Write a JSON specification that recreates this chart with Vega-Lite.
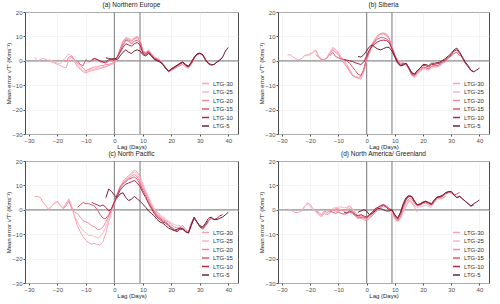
{
"$schema": "https://vega.github.io/schema/vega-lite/v6.json",
"padding": {"left": 5, "top": 1, "right": 4, "bottom": 0},
"datasets": {
"refs": [{"lag": 0}, {"lag": 9}],
"zero": [{"err": 0}],
"a": [
{"g":"LTG-30","lag":-28,"err":1.5},{"g":"LTG-30","lag":-27,"err":-0.2},{"g":"LTG-30","lag":-26,"err":0.5},{"g":"LTG-30","lag":-25,"err":1.0},{"g":"LTG-30","lag":-24,"err":0.5},{"g":"LTG-30","lag":-23,"err":0},{"g":"LTG-30","lag":-22,"err":-0.5},{"g":"LTG-30","lag":-21,"err":-1},{"g":"LTG-30","lag":-20,"err":-1.5},{"g":"LTG-30","lag":-19,"err":-2},{"g":"LTG-30","lag":-18,"err":-2.5},{"g":"LTG-30","lag":-17,"err":-3},{"g":"LTG-30","lag":-16,"err":0.5},{"g":"LTG-30","lag":-15,"err":1.5},{"g":"LTG-30","lag":-14,"err":-0.5},{"g":"LTG-30","lag":-13,"err":-2.5},{"g":"LTG-30","lag":-12,"err":-3.5},{"g":"LTG-30","lag":-11,"err":-4.5},{"g":"LTG-30","lag":-10,"err":-5},{"g":"LTG-30","lag":-9,"err":-4.5},{"g":"LTG-30","lag":-8,"err":-4},{"g":"LTG-30","lag":-7,"err":-3.8},{"g":"LTG-30","lag":-6,"err":-3.5},{"g":"LTG-30","lag":-5,"err":-3.2},{"g":"LTG-30","lag":-4,"err":-2.8},{"g":"LTG-30","lag":-3,"err":-2.5},{"g":"LTG-30","lag":-2,"err":-2},{"g":"LTG-30","lag":-1,"err":-1.5},{"g":"LTG-30","lag":0,"err":-1},{"g":"LTG-30","lag":1,"err":1},{"g":"LTG-30","lag":2,"err":4},{"g":"LTG-30","lag":3,"err":7.5},{"g":"LTG-30","lag":4,"err":9.5},{"g":"LTG-30","lag":5,"err":9.3},{"g":"LTG-30","lag":6,"err":8.5},{"g":"LTG-30","lag":7,"err":9.5},{"g":"LTG-30","lag":8,"err":10},{"g":"LTG-30","lag":9,"err":9},{"g":"LTG-30","lag":10,"err":4},{"g":"LTG-30","lag":11,"err":3.5},{"g":"LTG-30","lag":12,"err":4.5},{"g":"LTG-30","lag":13,"err":3},{"g":"LTG-30","lag":14,"err":1.5},{"g":"LTG-30","lag":15,"err":1},{"g":"LTG-30","lag":16,"err":0.5},{"g":"LTG-30","lag":17,"err":-1},{"g":"LTG-30","lag":18,"err":-2.5},
{"g":"LTG-25","lag":-23,"err":0.5},{"g":"LTG-25","lag":-22,"err":0},{"g":"LTG-25","lag":-21,"err":-0.5},{"g":"LTG-25","lag":-20,"err":-1},{"g":"LTG-25","lag":-19,"err":-1.2},{"g":"LTG-25","lag":-18,"err":0},{"g":"LTG-25","lag":-17,"err":1.5},{"g":"LTG-25","lag":-16,"err":2.8},{"g":"LTG-25","lag":-15,"err":2},{"g":"LTG-25","lag":-14,"err":0},{"g":"LTG-25","lag":-13,"err":-2},{"g":"LTG-25","lag":-12,"err":-3},{"g":"LTG-25","lag":-11,"err":-4},{"g":"LTG-25","lag":-10,"err":-4.5},{"g":"LTG-25","lag":-9,"err":-4},{"g":"LTG-25","lag":-8,"err":-3.5},{"g":"LTG-25","lag":-7,"err":-3.3},{"g":"LTG-25","lag":-6,"err":-3},{"g":"LTG-25","lag":-5,"err":-2.8},{"g":"LTG-25","lag":-4,"err":-2.5},{"g":"LTG-25","lag":-3,"err":-2.2},{"g":"LTG-25","lag":-2,"err":-1.8},{"g":"LTG-25","lag":-1,"err":-1.2},{"g":"LTG-25","lag":0,"err":-0.5},{"g":"LTG-25","lag":1,"err":1.5},{"g":"LTG-25","lag":2,"err":4.5},{"g":"LTG-25","lag":3,"err":8},{"g":"LTG-25","lag":4,"err":9.5},{"g":"LTG-25","lag":5,"err":9},{"g":"LTG-25","lag":6,"err":8},{"g":"LTG-25","lag":7,"err":9},{"g":"LTG-25","lag":8,"err":9.8},{"g":"LTG-25","lag":9,"err":8.5},{"g":"LTG-25","lag":10,"err":4},{"g":"LTG-25","lag":11,"err":3.5},{"g":"LTG-25","lag":12,"err":4},{"g":"LTG-25","lag":13,"err":3},{"g":"LTG-25","lag":14,"err":1.5},{"g":"LTG-25","lag":15,"err":1},{"g":"LTG-25","lag":16,"err":0.3},{"g":"LTG-25","lag":17,"err":-1.5},{"g":"LTG-25","lag":18,"err":-3},{"g":"LTG-25","lag":19,"err":-4.5},{"g":"LTG-25","lag":20,"err":-4},{"g":"LTG-25","lag":21,"err":-3.5},{"g":"LTG-25","lag":22,"err":-2.5},{"g":"LTG-25","lag":23,"err":-2},
{"g":"LTG-20","lag":-18,"err":0.5},{"g":"LTG-20","lag":-17,"err":-0.5},{"g":"LTG-20","lag":-16,"err":1.5},{"g":"LTG-20","lag":-15,"err":2},{"g":"LTG-20","lag":-14,"err":0.5},{"g":"LTG-20","lag":-13,"err":-1},{"g":"LTG-20","lag":-12,"err":-2},{"g":"LTG-20","lag":-11,"err":-3},{"g":"LTG-20","lag":-10,"err":-4},{"g":"LTG-20","lag":-9,"err":-3.5},{"g":"LTG-20","lag":-8,"err":-3},{"g":"LTG-20","lag":-7,"err":-2.5},{"g":"LTG-20","lag":-6,"err":-2.5},{"g":"LTG-20","lag":-5,"err":-2},{"g":"LTG-20","lag":-4,"err":-2},{"g":"LTG-20","lag":-3,"err":-1.5},{"g":"LTG-20","lag":-2,"err":-1.5},{"g":"LTG-20","lag":-1,"err":-1},{"g":"LTG-20","lag":0,"err":-0.5},{"g":"LTG-20","lag":1,"err":1.5},{"g":"LTG-20","lag":2,"err":5},{"g":"LTG-20","lag":3,"err":8},{"g":"LTG-20","lag":4,"err":9},{"g":"LTG-20","lag":5,"err":8.5},{"g":"LTG-20","lag":6,"err":8},{"g":"LTG-20","lag":7,"err":9},{"g":"LTG-20","lag":8,"err":9.5},{"g":"LTG-20","lag":9,"err":8},{"g":"LTG-20","lag":10,"err":3.8},{"g":"LTG-20","lag":11,"err":3.2},{"g":"LTG-20","lag":12,"err":4},{"g":"LTG-20","lag":13,"err":2.5},{"g":"LTG-20","lag":14,"err":1.2},{"g":"LTG-20","lag":15,"err":0.8},{"g":"LTG-20","lag":16,"err":0},{"g":"LTG-20","lag":17,"err":-1.5},{"g":"LTG-20","lag":18,"err":-3},{"g":"LTG-20","lag":19,"err":-4.5},{"g":"LTG-20","lag":20,"err":-3.8},{"g":"LTG-20","lag":21,"err":-3.2},{"g":"LTG-20","lag":22,"err":-2.5},{"g":"LTG-20","lag":23,"err":-2},{"g":"LTG-20","lag":24,"err":-1.5},{"g":"LTG-20","lag":25,"err":-2.5},{"g":"LTG-20","lag":26,"err":-3},{"g":"LTG-20","lag":27,"err":-1.5},{"g":"LTG-20","lag":28,"err":0.5},
{"g":"LTG-15","lag":-13,"err":0},{"g":"LTG-15","lag":-12,"err":-1.5},{"g":"LTG-15","lag":-11,"err":-2},{"g":"LTG-15","lag":-10,"err":0.5},{"g":"LTG-15","lag":-9,"err":-0.5},{"g":"LTG-15","lag":-8,"err":0},{"g":"LTG-15","lag":-7,"err":0.8},{"g":"LTG-15","lag":-6,"err":0.5},{"g":"LTG-15","lag":-5,"err":-0.5},{"g":"LTG-15","lag":-4,"err":-0.5},{"g":"LTG-15","lag":-3,"err":-1},{"g":"LTG-15","lag":-2,"err":0},{"g":"LTG-15","lag":-1,"err":0.5},{"g":"LTG-15","lag":0,"err":0},{"g":"LTG-15","lag":1,"err":1.5},{"g":"LTG-15","lag":2,"err":4},{"g":"LTG-15","lag":3,"err":6.5},{"g":"LTG-15","lag":4,"err":8.5},{"g":"LTG-15","lag":5,"err":8},{"g":"LTG-15","lag":6,"err":7},{"g":"LTG-15","lag":7,"err":8},{"g":"LTG-15","lag":8,"err":8.5},{"g":"LTG-15","lag":9,"err":7.5},{"g":"LTG-15","lag":10,"err":3.5},{"g":"LTG-15","lag":11,"err":3},{"g":"LTG-15","lag":12,"err":3.8},{"g":"LTG-15","lag":13,"err":2.5},{"g":"LTG-15","lag":14,"err":1},{"g":"LTG-15","lag":15,"err":0.5},{"g":"LTG-15","lag":16,"err":0},{"g":"LTG-15","lag":17,"err":-1.5},{"g":"LTG-15","lag":18,"err":-3},{"g":"LTG-15","lag":19,"err":-4.5},{"g":"LTG-15","lag":20,"err":-3.5},{"g":"LTG-15","lag":21,"err":-3},{"g":"LTG-15","lag":22,"err":-2},{"g":"LTG-15","lag":23,"err":-1.5},{"g":"LTG-15","lag":24,"err":-0.8},{"g":"LTG-15","lag":25,"err":-2},{"g":"LTG-15","lag":26,"err":-2.5},{"g":"LTG-15","lag":27,"err":-1},{"g":"LTG-15","lag":28,"err":1},{"g":"LTG-15","lag":29,"err":2.5},{"g":"LTG-15","lag":30,"err":3},{"g":"LTG-15","lag":31,"err":2.5},{"g":"LTG-15","lag":32,"err":0.5},{"g":"LTG-15","lag":33,"err":-1},
{"g":"LTG-10","lag":-8,"err":0.5},{"g":"LTG-10","lag":-7,"err":1},{"g":"LTG-10","lag":-6,"err":0.5},{"g":"LTG-10","lag":-5,"err":0},{"g":"LTG-10","lag":-4,"err":-0.5},{"g":"LTG-10","lag":-3,"err":-0.5},{"g":"LTG-10","lag":-2,"err":0.5},{"g":"LTG-10","lag":-1,"err":1},{"g":"LTG-10","lag":0,"err":0.5},{"g":"LTG-10","lag":1,"err":1.5},{"g":"LTG-10","lag":2,"err":3.5},{"g":"LTG-10","lag":3,"err":5.5},{"g":"LTG-10","lag":4,"err":7},{"g":"LTG-10","lag":5,"err":6.5},{"g":"LTG-10","lag":6,"err":6},{"g":"LTG-10","lag":7,"err":7},{"g":"LTG-10","lag":8,"err":7.5},{"g":"LTG-10","lag":9,"err":6.5},{"g":"LTG-10","lag":10,"err":3},{"g":"LTG-10","lag":11,"err":2.5},{"g":"LTG-10","lag":12,"err":3.5},{"g":"LTG-10","lag":13,"err":2},{"g":"LTG-10","lag":14,"err":0.8},{"g":"LTG-10","lag":15,"err":0.2},{"g":"LTG-10","lag":16,"err":-0.2},{"g":"LTG-10","lag":17,"err":-1.5},{"g":"LTG-10","lag":18,"err":-3},{"g":"LTG-10","lag":19,"err":-4.3},{"g":"LTG-10","lag":20,"err":-3.5},{"g":"LTG-10","lag":21,"err":-2.8},{"g":"LTG-10","lag":22,"err":-2},{"g":"LTG-10","lag":23,"err":-1.2},{"g":"LTG-10","lag":24,"err":-0.5},{"g":"LTG-10","lag":25,"err":-1.8},{"g":"LTG-10","lag":26,"err":-2.5},{"g":"LTG-10","lag":27,"err":-0.8},{"g":"LTG-10","lag":28,"err":1.2},{"g":"LTG-10","lag":29,"err":2.6},{"g":"LTG-10","lag":30,"err":3},{"g":"LTG-10","lag":31,"err":2.5},{"g":"LTG-10","lag":32,"err":0.5},{"g":"LTG-10","lag":33,"err":-1},{"g":"LTG-10","lag":34,"err":-1.5},{"g":"LTG-10","lag":35,"err":-1.5},{"g":"LTG-10","lag":36,"err":-0.5},{"g":"LTG-10","lag":37,"err":0.3},{"g":"LTG-10","lag":38,"err":1.5},
{"g":"LTG-5","lag":-3,"err":1.2},{"g":"LTG-5","lag":-2,"err":1},{"g":"LTG-5","lag":-1,"err":0.5},{"g":"LTG-5","lag":0,"err":1},{"g":"LTG-5","lag":1,"err":0.5},{"g":"LTG-5","lag":2,"err":2},{"g":"LTG-5","lag":3,"err":3.5},{"g":"LTG-5","lag":4,"err":4.5},{"g":"LTG-5","lag":5,"err":3.5},{"g":"LTG-5","lag":6,"err":3},{"g":"LTG-5","lag":7,"err":4},{"g":"LTG-5","lag":8,"err":4.5},{"g":"LTG-5","lag":9,"err":4},{"g":"LTG-5","lag":10,"err":2.5},{"g":"LTG-5","lag":11,"err":2},{"g":"LTG-5","lag":12,"err":3},{"g":"LTG-5","lag":13,"err":2},{"g":"LTG-5","lag":14,"err":0.5},{"g":"LTG-5","lag":15,"err":0},{"g":"LTG-5","lag":16,"err":-0.5},{"g":"LTG-5","lag":17,"err":-1.5},{"g":"LTG-5","lag":18,"err":-3},{"g":"LTG-5","lag":19,"err":-4.2},{"g":"LTG-5","lag":20,"err":-3.2},{"g":"LTG-5","lag":21,"err":-2.5},{"g":"LTG-5","lag":22,"err":-1.8},{"g":"LTG-5","lag":23,"err":-1},{"g":"LTG-5","lag":24,"err":-0.5},{"g":"LTG-5","lag":25,"err":-1.5},{"g":"LTG-5","lag":26,"err":-2.2},{"g":"LTG-5","lag":27,"err":-0.5},{"g":"LTG-5","lag":28,"err":1.5},{"g":"LTG-5","lag":29,"err":2.8},{"g":"LTG-5","lag":30,"err":3.2},{"g":"LTG-5","lag":31,"err":2.5},{"g":"LTG-5","lag":32,"err":0.3},{"g":"LTG-5","lag":33,"err":-1.2},{"g":"LTG-5","lag":34,"err":-1.8},{"g":"LTG-5","lag":35,"err":-1.5},{"g":"LTG-5","lag":36,"err":-0.5},{"g":"LTG-5","lag":37,"err":0.3},{"g":"LTG-5","lag":38,"err":1.5},{"g":"LTG-5","lag":39,"err":4},{"g":"LTG-5","lag":40,"err":5.5}
],
"b": [
{"g":"LTG-30","lag":-28,"err":2.3},{"g":"LTG-30","lag":-27,"err":2.5},{"g":"LTG-30","lag":-26,"err":1.5},{"g":"LTG-30","lag":-25,"err":0.8},{"g":"LTG-30","lag":-24,"err":0.3},{"g":"LTG-30","lag":-23,"err":1},{"g":"LTG-30","lag":-22,"err":2},{"g":"LTG-30","lag":-21,"err":2.2},{"g":"LTG-30","lag":-20,"err":2.5},{"g":"LTG-30","lag":-19,"err":3.5},{"g":"LTG-30","lag":-18,"err":4.5},{"g":"LTG-30","lag":-17,"err":2},{"g":"LTG-30","lag":-16,"err":0.8},{"g":"LTG-30","lag":-15,"err":0.5},{"g":"LTG-30","lag":-14,"err":1.5},{"g":"LTG-30","lag":-13,"err":3.5},{"g":"LTG-30","lag":-12,"err":5.5},{"g":"LTG-30","lag":-11,"err":4.5},{"g":"LTG-30","lag":-10,"err":3.5},{"g":"LTG-30","lag":-9,"err":1.5},{"g":"LTG-30","lag":-8,"err":0},{"g":"LTG-30","lag":-7,"err":-1.5},{"g":"LTG-30","lag":-6,"err":-3.5},{"g":"LTG-30","lag":-5,"err":-5.5},{"g":"LTG-30","lag":-4,"err":-6.5},{"g":"LTG-30","lag":-3,"err":-7},{"g":"LTG-30","lag":-2,"err":-7.5},{"g":"LTG-30","lag":-1,"err":-4.5},{"g":"LTG-30","lag":0,"err":0},{"g":"LTG-30","lag":1,"err":3},{"g":"LTG-30","lag":2,"err":6},{"g":"LTG-30","lag":3,"err":8},{"g":"LTG-30","lag":4,"err":10},{"g":"LTG-30","lag":5,"err":11.2},{"g":"LTG-30","lag":6,"err":11.5},{"g":"LTG-30","lag":7,"err":11},{"g":"LTG-30","lag":8,"err":9.5},{"g":"LTG-30","lag":9,"err":6},{"g":"LTG-30","lag":10,"err":2.5},{"g":"LTG-30","lag":11,"err":0.5},{"g":"LTG-30","lag":12,"err":-1},{"g":"LTG-30","lag":13,"err":-0.5},{"g":"LTG-30","lag":14,"err":-1.5},{"g":"LTG-30","lag":15,"err":-3},{"g":"LTG-30","lag":16,"err":-6},{"g":"LTG-30","lag":17,"err":-6.8},{"g":"LTG-30","lag":18,"err":-6},
{"g":"LTG-25","lag":-23,"err":1},{"g":"LTG-25","lag":-22,"err":2.3},{"g":"LTG-25","lag":-21,"err":2.5},{"g":"LTG-25","lag":-20,"err":3},{"g":"LTG-25","lag":-19,"err":3.5},{"g":"LTG-25","lag":-18,"err":4},{"g":"LTG-25","lag":-17,"err":1.5},{"g":"LTG-25","lag":-16,"err":0.3},{"g":"LTG-25","lag":-15,"err":0.3},{"g":"LTG-25","lag":-14,"err":1.5},{"g":"LTG-25","lag":-13,"err":3.5},{"g":"LTG-25","lag":-12,"err":5},{"g":"LTG-25","lag":-11,"err":4},{"g":"LTG-25","lag":-10,"err":3},{"g":"LTG-25","lag":-9,"err":1},{"g":"LTG-25","lag":-8,"err":-0.5},{"g":"LTG-25","lag":-7,"err":-2},{"g":"LTG-25","lag":-6,"err":-4},{"g":"LTG-25","lag":-5,"err":-6},{"g":"LTG-25","lag":-4,"err":-6.8},{"g":"LTG-25","lag":-3,"err":-7.2},{"g":"LTG-25","lag":-2,"err":-7},{"g":"LTG-25","lag":-1,"err":-4},{"g":"LTG-25","lag":0,"err":0.5},{"g":"LTG-25","lag":1,"err":3.5},{"g":"LTG-25","lag":2,"err":6.5},{"g":"LTG-25","lag":3,"err":8.5},{"g":"LTG-25","lag":4,"err":10},{"g":"LTG-25","lag":5,"err":11},{"g":"LTG-25","lag":6,"err":11.2},{"g":"LTG-25","lag":7,"err":10.5},{"g":"LTG-25","lag":8,"err":9},{"g":"LTG-25","lag":9,"err":5.5},{"g":"LTG-25","lag":10,"err":2},{"g":"LTG-25","lag":11,"err":0},{"g":"LTG-25","lag":12,"err":-1.2},{"g":"LTG-25","lag":13,"err":-0.8},{"g":"LTG-25","lag":14,"err":-1.5},{"g":"LTG-25","lag":15,"err":-3.5},{"g":"LTG-25","lag":16,"err":-6},{"g":"LTG-25","lag":17,"err":-6.5},{"g":"LTG-25","lag":18,"err":-5.5},{"g":"LTG-25","lag":19,"err":-4.5},{"g":"LTG-25","lag":20,"err":-3.5},{"g":"LTG-25","lag":21,"err":-3.5},{"g":"LTG-25","lag":22,"err":-4},{"g":"LTG-25","lag":23,"err":-3},
{"g":"LTG-20","lag":-18,"err":2.5},{"g":"LTG-20","lag":-17,"err":1.5},{"g":"LTG-20","lag":-16,"err":0.5},{"g":"LTG-20","lag":-15,"err":0.5},{"g":"LTG-20","lag":-14,"err":1},{"g":"LTG-20","lag":-13,"err":3},{"g":"LTG-20","lag":-12,"err":4.5},{"g":"LTG-20","lag":-11,"err":3.5},{"g":"LTG-20","lag":-10,"err":2.5},{"g":"LTG-20","lag":-9,"err":0.5},{"g":"LTG-20","lag":-8,"err":-1},{"g":"LTG-20","lag":-7,"err":-2.5},{"g":"LTG-20","lag":-6,"err":-4.5},{"g":"LTG-20","lag":-5,"err":-6},{"g":"LTG-20","lag":-4,"err":-6.5},{"g":"LTG-20","lag":-3,"err":-6.8},{"g":"LTG-20","lag":-2,"err":-6.5},{"g":"LTG-20","lag":-1,"err":-3.5},{"g":"LTG-20","lag":0,"err":1},{"g":"LTG-20","lag":1,"err":4},{"g":"LTG-20","lag":2,"err":7},{"g":"LTG-20","lag":3,"err":9},{"g":"LTG-20","lag":4,"err":10.5},{"g":"LTG-20","lag":5,"err":11},{"g":"LTG-20","lag":6,"err":11},{"g":"LTG-20","lag":7,"err":10.5},{"g":"LTG-20","lag":8,"err":9},{"g":"LTG-20","lag":9,"err":5.5},{"g":"LTG-20","lag":10,"err":2},{"g":"LTG-20","lag":11,"err":0},{"g":"LTG-20","lag":12,"err":-1.5},{"g":"LTG-20","lag":13,"err":-1},{"g":"LTG-20","lag":14,"err":-1.5},{"g":"LTG-20","lag":15,"err":-3.5},{"g":"LTG-20","lag":16,"err":-5.8},{"g":"LTG-20","lag":17,"err":-6.2},{"g":"LTG-20","lag":18,"err":-5},{"g":"LTG-20","lag":19,"err":-4},{"g":"LTG-20","lag":20,"err":-3},{"g":"LTG-20","lag":21,"err":-3},{"g":"LTG-20","lag":22,"err":-3.5},{"g":"LTG-20","lag":23,"err":-2.5},{"g":"LTG-20","lag":24,"err":-2.5},{"g":"LTG-20","lag":25,"err":-2.5},{"g":"LTG-20","lag":26,"err":-2},{"g":"LTG-20","lag":27,"err":-1},{"g":"LTG-20","lag":28,"err":-0.5},
{"g":"LTG-15","lag":-13,"err":2},{"g":"LTG-15","lag":-12,"err":3.5},{"g":"LTG-15","lag":-11,"err":1.8},{"g":"LTG-15","lag":-10,"err":1.2},{"g":"LTG-15","lag":-9,"err":0.8},{"g":"LTG-15","lag":-8,"err":0.5},{"g":"LTG-15","lag":-7,"err":0},{"g":"LTG-15","lag":-6,"err":-1},{"g":"LTG-15","lag":-5,"err":-2.5},{"g":"LTG-15","lag":-4,"err":-4},{"g":"LTG-15","lag":-3,"err":-5.5},{"g":"LTG-15","lag":-2,"err":-6},{"g":"LTG-15","lag":-1,"err":-3.5},{"g":"LTG-15","lag":0,"err":1},{"g":"LTG-15","lag":1,"err":4},{"g":"LTG-15","lag":2,"err":6.5},{"g":"LTG-15","lag":3,"err":8},{"g":"LTG-15","lag":4,"err":9},{"g":"LTG-15","lag":5,"err":9.5},{"g":"LTG-15","lag":6,"err":9.5},{"g":"LTG-15","lag":7,"err":9},{"g":"LTG-15","lag":8,"err":8},{"g":"LTG-15","lag":9,"err":5},{"g":"LTG-15","lag":10,"err":2},{"g":"LTG-15","lag":11,"err":0},{"g":"LTG-15","lag":12,"err":-1.5},{"g":"LTG-15","lag":13,"err":-1.2},{"g":"LTG-15","lag":14,"err":-1.2},{"g":"LTG-15","lag":15,"err":-3},{"g":"LTG-15","lag":16,"err":-5.5},{"g":"LTG-15","lag":17,"err":-6},{"g":"LTG-15","lag":18,"err":-4.5},{"g":"LTG-15","lag":19,"err":-3.5},{"g":"LTG-15","lag":20,"err":-2.5},{"g":"LTG-15","lag":21,"err":-2.8},{"g":"LTG-15","lag":22,"err":-3.2},{"g":"LTG-15","lag":23,"err":-2.2},{"g":"LTG-15","lag":24,"err":-2},{"g":"LTG-15","lag":25,"err":-2},{"g":"LTG-15","lag":26,"err":-1.5},{"g":"LTG-15","lag":27,"err":-0.5},{"g":"LTG-15","lag":28,"err":0},{"g":"LTG-15","lag":29,"err":1},{"g":"LTG-15","lag":30,"err":2},{"g":"LTG-15","lag":31,"err":3},{"g":"LTG-15","lag":32,"err":3.5},{"g":"LTG-15","lag":33,"err":2},
{"g":"LTG-10","lag":-8,"err":0.5},{"g":"LTG-10","lag":-7,"err":0.3},{"g":"LTG-10","lag":-6,"err":0},{"g":"LTG-10","lag":-5,"err":-0.3},{"g":"LTG-10","lag":-4,"err":-0.8},{"g":"LTG-10","lag":-3,"err":-1.2},{"g":"LTG-10","lag":-2,"err":-1.5},{"g":"LTG-10","lag":-1,"err":-0.5},{"g":"LTG-10","lag":0,"err":2},{"g":"LTG-10","lag":1,"err":4.5},{"g":"LTG-10","lag":2,"err":6},{"g":"LTG-10","lag":3,"err":7},{"g":"LTG-10","lag":4,"err":7.8},{"g":"LTG-10","lag":5,"err":8.3},{"g":"LTG-10","lag":6,"err":8.5},{"g":"LTG-10","lag":7,"err":8.3},{"g":"LTG-10","lag":8,"err":7.5},{"g":"LTG-10","lag":9,"err":5},{"g":"LTG-10","lag":10,"err":2},{"g":"LTG-10","lag":11,"err":-0.5},{"g":"LTG-10","lag":12,"err":-2},{"g":"LTG-10","lag":13,"err":-1.5},{"g":"LTG-10","lag":14,"err":-1},{"g":"LTG-10","lag":15,"err":-3},{"g":"LTG-10","lag":16,"err":-5},{"g":"LTG-10","lag":17,"err":-5.5},{"g":"LTG-10","lag":18,"err":-4},{"g":"LTG-10","lag":19,"err":-3},{"g":"LTG-10","lag":20,"err":-1.8},{"g":"LTG-10","lag":21,"err":-2},{"g":"LTG-10","lag":22,"err":-2.5},{"g":"LTG-10","lag":23,"err":-1.5},{"g":"LTG-10","lag":24,"err":-1.5},{"g":"LTG-10","lag":25,"err":-1.2},{"g":"LTG-10","lag":26,"err":-1},{"g":"LTG-10","lag":27,"err":0},{"g":"LTG-10","lag":28,"err":0.5},{"g":"LTG-10","lag":29,"err":1.5},{"g":"LTG-10","lag":30,"err":2.5},{"g":"LTG-10","lag":31,"err":4},{"g":"LTG-10","lag":32,"err":4.5},{"g":"LTG-10","lag":33,"err":3},{"g":"LTG-10","lag":34,"err":1},{"g":"LTG-10","lag":35,"err":-1},{"g":"LTG-10","lag":36,"err":-2.5},{"g":"LTG-10","lag":37,"err":-4},{"g":"LTG-10","lag":38,"err":-4.5},
{"g":"LTG-5","lag":-3,"err":1.8},{"g":"LTG-5","lag":-2,"err":1.5},{"g":"LTG-5","lag":-1,"err":2.5},{"g":"LTG-5","lag":0,"err":4},{"g":"LTG-5","lag":1,"err":5.8},{"g":"LTG-5","lag":2,"err":6.5},{"g":"LTG-5","lag":3,"err":5.5},{"g":"LTG-5","lag":4,"err":4.8},{"g":"LTG-5","lag":5,"err":4.5},{"g":"LTG-5","lag":6,"err":5},{"g":"LTG-5","lag":7,"err":5.5},{"g":"LTG-5","lag":8,"err":5.5},{"g":"LTG-5","lag":9,"err":4},{"g":"LTG-5","lag":10,"err":1.5},{"g":"LTG-5","lag":11,"err":-1},{"g":"LTG-5","lag":12,"err":-2},{"g":"LTG-5","lag":13,"err":-1.8},{"g":"LTG-5","lag":14,"err":-1},{"g":"LTG-5","lag":15,"err":-2.8},{"g":"LTG-5","lag":16,"err":-4.8},{"g":"LTG-5","lag":17,"err":-5.5},{"g":"LTG-5","lag":18,"err":-4},{"g":"LTG-5","lag":19,"err":-3},{"g":"LTG-5","lag":20,"err":-1.5},{"g":"LTG-5","lag":21,"err":-1.5},{"g":"LTG-5","lag":22,"err":-2},{"g":"LTG-5","lag":23,"err":-1},{"g":"LTG-5","lag":24,"err":-1},{"g":"LTG-5","lag":25,"err":-0.8},{"g":"LTG-5","lag":26,"err":-0.5},{"g":"LTG-5","lag":27,"err":0.2},{"g":"LTG-5","lag":28,"err":1},{"g":"LTG-5","lag":29,"err":2},{"g":"LTG-5","lag":30,"err":3},{"g":"LTG-5","lag":31,"err":4.5},{"g":"LTG-5","lag":32,"err":5.2},{"g":"LTG-5","lag":33,"err":3.5},{"g":"LTG-5","lag":34,"err":1.5},{"g":"LTG-5","lag":35,"err":-0.5},{"g":"LTG-5","lag":36,"err":-2},{"g":"LTG-5","lag":37,"err":-3.8},{"g":"LTG-5","lag":38,"err":-4.5},{"g":"LTG-5","lag":39,"err":-3.8},{"g":"LTG-5","lag":40,"err":-3}
],
"c": [
{"g":"LTG-30","lag":-28,"err":5.5},{"g":"LTG-30","lag":-27,"err":5.5},{"g":"LTG-30","lag":-26,"err":5},{"g":"LTG-30","lag":-25,"err":3},{"g":"LTG-30","lag":-24,"err":1.5},{"g":"LTG-30","lag":-23,"err":0},{"g":"LTG-30","lag":-22,"err":1.5},{"g":"LTG-30","lag":-21,"err":2.5},{"g":"LTG-30","lag":-20,"err":3.5},{"g":"LTG-30","lag":-19,"err":2},{"g":"LTG-30","lag":-18,"err":0.5},{"g":"LTG-30","lag":-17,"err":2.5},{"g":"LTG-30","lag":-16,"err":4.5},{"g":"LTG-30","lag":-15,"err":1.5},{"g":"LTG-30","lag":-14,"err":-3},{"g":"LTG-30","lag":-13,"err":-6.5},{"g":"LTG-30","lag":-12,"err":-9},{"g":"LTG-30","lag":-11,"err":-11},{"g":"LTG-30","lag":-10,"err":-12.5},{"g":"LTG-30","lag":-9,"err":-13.5},{"g":"LTG-30","lag":-8,"err":-14},{"g":"LTG-30","lag":-7,"err":-13.8},{"g":"LTG-30","lag":-6,"err":-14.2},{"g":"LTG-30","lag":-5,"err":-14.5},{"g":"LTG-30","lag":-4,"err":-13},{"g":"LTG-30","lag":-3,"err":-9.5},{"g":"LTG-30","lag":-2,"err":-5},{"g":"LTG-30","lag":-1,"err":-1},{"g":"LTG-30","lag":0,"err":2.5},{"g":"LTG-30","lag":1,"err":6},{"g":"LTG-30","lag":2,"err":9},{"g":"LTG-30","lag":3,"err":11.5},{"g":"LTG-30","lag":4,"err":13},{"g":"LTG-30","lag":5,"err":14},{"g":"LTG-30","lag":6,"err":15},{"g":"LTG-30","lag":7,"err":16.3},{"g":"LTG-30","lag":8,"err":15.5},{"g":"LTG-30","lag":9,"err":13.5},{"g":"LTG-30","lag":10,"err":10.5},{"g":"LTG-30","lag":11,"err":7.5},{"g":"LTG-30","lag":12,"err":5},{"g":"LTG-30","lag":13,"err":2.5},{"g":"LTG-30","lag":14,"err":0.5},{"g":"LTG-30","lag":15,"err":-1},{"g":"LTG-30","lag":16,"err":-2},{"g":"LTG-30","lag":17,"err":-3},{"g":"LTG-30","lag":18,"err":-3.8},
{"g":"LTG-25","lag":-23,"err":0.5},{"g":"LTG-25","lag":-22,"err":1.5},{"g":"LTG-25","lag":-21,"err":3},{"g":"LTG-25","lag":-20,"err":3.2},{"g":"LTG-25","lag":-19,"err":1.5},{"g":"LTG-25","lag":-18,"err":1},{"g":"LTG-25","lag":-17,"err":2.5},{"g":"LTG-25","lag":-16,"err":4},{"g":"LTG-25","lag":-15,"err":1},{"g":"LTG-25","lag":-14,"err":-2.5},{"g":"LTG-25","lag":-13,"err":-5},{"g":"LTG-25","lag":-12,"err":-7},{"g":"LTG-25","lag":-11,"err":-8.5},{"g":"LTG-25","lag":-10,"err":-9.5},{"g":"LTG-25","lag":-9,"err":-10.5},{"g":"LTG-25","lag":-8,"err":-10.5},{"g":"LTG-25","lag":-7,"err":-11},{"g":"LTG-25","lag":-6,"err":-11.5},{"g":"LTG-25","lag":-5,"err":-11},{"g":"LTG-25","lag":-4,"err":-9.5},{"g":"LTG-25","lag":-3,"err":-7},{"g":"LTG-25","lag":-2,"err":-3.5},{"g":"LTG-25","lag":-1,"err":0},{"g":"LTG-25","lag":0,"err":3},{"g":"LTG-25","lag":1,"err":6.5},{"g":"LTG-25","lag":2,"err":9.5},{"g":"LTG-25","lag":3,"err":11.5},{"g":"LTG-25","lag":4,"err":12.5},{"g":"LTG-25","lag":5,"err":13.5},{"g":"LTG-25","lag":6,"err":14.5},{"g":"LTG-25","lag":7,"err":15.5},{"g":"LTG-25","lag":8,"err":14.5},{"g":"LTG-25","lag":9,"err":12.5},{"g":"LTG-25","lag":10,"err":9.5},{"g":"LTG-25","lag":11,"err":7},{"g":"LTG-25","lag":12,"err":4.5},{"g":"LTG-25","lag":13,"err":2},{"g":"LTG-25","lag":14,"err":0},{"g":"LTG-25","lag":15,"err":-1.5},{"g":"LTG-25","lag":16,"err":-2.5},{"g":"LTG-25","lag":17,"err":-3.5},{"g":"LTG-25","lag":18,"err":-4},{"g":"LTG-25","lag":19,"err":-4.5},{"g":"LTG-25","lag":20,"err":-5.5},{"g":"LTG-25","lag":21,"err":-6},{"g":"LTG-25","lag":22,"err":-6.5},{"g":"LTG-25","lag":23,"err":-6.5},
{"g":"LTG-20","lag":-18,"err":0.5},{"g":"LTG-20","lag":-17,"err":1.5},{"g":"LTG-20","lag":-16,"err":3.5},{"g":"LTG-20","lag":-15,"err":0.5},{"g":"LTG-20","lag":-14,"err":-1},{"g":"LTG-20","lag":-13,"err":-1.5},{"g":"LTG-20","lag":-12,"err":-3},{"g":"LTG-20","lag":-11,"err":-4.5},{"g":"LTG-20","lag":-10,"err":-5},{"g":"LTG-20","lag":-9,"err":-5.5},{"g":"LTG-20","lag":-8,"err":-6.5},{"g":"LTG-20","lag":-7,"err":-7},{"g":"LTG-20","lag":-6,"err":-8},{"g":"LTG-20","lag":-5,"err":-8},{"g":"LTG-20","lag":-4,"err":-7},{"g":"LTG-20","lag":-3,"err":-5},{"g":"LTG-20","lag":-2,"err":-2.5},{"g":"LTG-20","lag":-1,"err":0.5},{"g":"LTG-20","lag":0,"err":3.5},{"g":"LTG-20","lag":1,"err":6.5},{"g":"LTG-20","lag":2,"err":9.5},{"g":"LTG-20","lag":3,"err":11},{"g":"LTG-20","lag":4,"err":12},{"g":"LTG-20","lag":5,"err":13},{"g":"LTG-20","lag":6,"err":13.8},{"g":"LTG-20","lag":7,"err":14.5},{"g":"LTG-20","lag":8,"err":13.5},{"g":"LTG-20","lag":9,"err":11.5},{"g":"LTG-20","lag":10,"err":9},{"g":"LTG-20","lag":11,"err":6.5},{"g":"LTG-20","lag":12,"err":4},{"g":"LTG-20","lag":13,"err":1.5},{"g":"LTG-20","lag":14,"err":-0.5},{"g":"LTG-20","lag":15,"err":-2},{"g":"LTG-20","lag":16,"err":-3},{"g":"LTG-20","lag":17,"err":-4},{"g":"LTG-20","lag":18,"err":-4.5},{"g":"LTG-20","lag":19,"err":-5},{"g":"LTG-20","lag":20,"err":-6},{"g":"LTG-20","lag":21,"err":-7},{"g":"LTG-20","lag":22,"err":-7.5},{"g":"LTG-20","lag":23,"err":-7},{"g":"LTG-20","lag":24,"err":-6.5},{"g":"LTG-20","lag":25,"err":-8},{"g":"LTG-20","lag":26,"err":-9},{"g":"LTG-20","lag":27,"err":-5.5},{"g":"LTG-20","lag":28,"err":-3.5},
{"g":"LTG-15","lag":-13,"err":1},{"g":"LTG-15","lag":-12,"err":2},{"g":"LTG-15","lag":-11,"err":3},{"g":"LTG-15","lag":-10,"err":2.5},{"g":"LTG-15","lag":-9,"err":2.5},{"g":"LTG-15","lag":-8,"err":2},{"g":"LTG-15","lag":-7,"err":1.5},{"g":"LTG-15","lag":-6,"err":0},{"g":"LTG-15","lag":-5,"err":-2},{"g":"LTG-15","lag":-4,"err":-3.5},{"g":"LTG-15","lag":-3,"err":-3.5},{"g":"LTG-15","lag":-2,"err":-2},{"g":"LTG-15","lag":-1,"err":0.5},{"g":"LTG-15","lag":0,"err":3.5},{"g":"LTG-15","lag":1,"err":6.5},{"g":"LTG-15","lag":2,"err":9},{"g":"LTG-15","lag":3,"err":10.5},{"g":"LTG-15","lag":4,"err":11.5},{"g":"LTG-15","lag":5,"err":12.5},{"g":"LTG-15","lag":6,"err":13},{"g":"LTG-15","lag":7,"err":13.5},{"g":"LTG-15","lag":8,"err":12.5},{"g":"LTG-15","lag":9,"err":10.5},{"g":"LTG-15","lag":10,"err":8},{"g":"LTG-15","lag":11,"err":5.5},{"g":"LTG-15","lag":12,"err":3},{"g":"LTG-15","lag":13,"err":1},{"g":"LTG-15","lag":14,"err":-1},{"g":"LTG-15","lag":15,"err":-2.5},{"g":"LTG-15","lag":16,"err":-3.5},{"g":"LTG-15","lag":17,"err":-4.5},{"g":"LTG-15","lag":18,"err":-5},{"g":"LTG-15","lag":19,"err":-6},{"g":"LTG-15","lag":20,"err":-7},{"g":"LTG-15","lag":21,"err":-8},{"g":"LTG-15","lag":22,"err":-8.5},{"g":"LTG-15","lag":23,"err":-7.5},{"g":"LTG-15","lag":24,"err":-7.5},{"g":"LTG-15","lag":25,"err":-8.5},{"g":"LTG-15","lag":26,"err":-9.5},{"g":"LTG-15","lag":27,"err":-5.5},{"g":"LTG-15","lag":28,"err":-3},{"g":"LTG-15","lag":29,"err":-5},{"g":"LTG-15","lag":30,"err":-7},{"g":"LTG-15","lag":31,"err":-8},{"g":"LTG-15","lag":32,"err":-6.5},{"g":"LTG-15","lag":33,"err":-5},
{"g":"LTG-10","lag":-8,"err":3},{"g":"LTG-10","lag":-7,"err":2.5},{"g":"LTG-10","lag":-6,"err":2},{"g":"LTG-10","lag":-5,"err":1.5},{"g":"LTG-10","lag":-4,"err":2},{"g":"LTG-10","lag":-3,"err":1},{"g":"LTG-10","lag":-2,"err":-0.5},{"g":"LTG-10","lag":-1,"err":0.5},{"g":"LTG-10","lag":0,"err":3},{"g":"LTG-10","lag":1,"err":5.5},{"g":"LTG-10","lag":2,"err":8},{"g":"LTG-10","lag":3,"err":9.5},{"g":"LTG-10","lag":4,"err":10.5},{"g":"LTG-10","lag":5,"err":11},{"g":"LTG-10","lag":6,"err":11.5},{"g":"LTG-10","lag":7,"err":12},{"g":"LTG-10","lag":8,"err":11},{"g":"LTG-10","lag":9,"err":9.5},{"g":"LTG-10","lag":10,"err":7},{"g":"LTG-10","lag":11,"err":5},{"g":"LTG-10","lag":12,"err":2.5},{"g":"LTG-10","lag":13,"err":0.5},{"g":"LTG-10","lag":14,"err":-1.5},{"g":"LTG-10","lag":15,"err":-3},{"g":"LTG-10","lag":16,"err":-4},{"g":"LTG-10","lag":17,"err":-5},{"g":"LTG-10","lag":18,"err":-5.5},{"g":"LTG-10","lag":19,"err":-6.5},{"g":"LTG-10","lag":20,"err":-7.5},{"g":"LTG-10","lag":21,"err":-8.5},{"g":"LTG-10","lag":22,"err":-9},{"g":"LTG-10","lag":23,"err":-8},{"g":"LTG-10","lag":24,"err":-8},{"g":"LTG-10","lag":25,"err":-9},{"g":"LTG-10","lag":26,"err":-9.5},{"g":"LTG-10","lag":27,"err":-6},{"g":"LTG-10","lag":28,"err":-3},{"g":"LTG-10","lag":29,"err":-5},{"g":"LTG-10","lag":30,"err":-7},{"g":"LTG-10","lag":31,"err":-7.5},{"g":"LTG-10","lag":32,"err":-6},{"g":"LTG-10","lag":33,"err":-4.5},{"g":"LTG-10","lag":34,"err":-3.5},{"g":"LTG-10","lag":35,"err":-4},{"g":"LTG-10","lag":36,"err":-3.5},{"g":"LTG-10","lag":37,"err":-2.5},{"g":"LTG-10","lag":38,"err":-2},
{"g":"LTG-5","lag":-3,"err":5},{"g":"LTG-5","lag":-2,"err":8.5},{"g":"LTG-5","lag":-1,"err":7.5},{"g":"LTG-5","lag":0,"err":6},{"g":"LTG-5","lag":1,"err":5},{"g":"LTG-5","lag":2,"err":6.5},{"g":"LTG-5","lag":3,"err":7},{"g":"LTG-5","lag":4,"err":5},{"g":"LTG-5","lag":5,"err":3.8},{"g":"LTG-5","lag":6,"err":4.3},{"g":"LTG-5","lag":7,"err":5.5},{"g":"LTG-5","lag":8,"err":4.5},{"g":"LTG-5","lag":9,"err":3.5},{"g":"LTG-5","lag":10,"err":2.3},{"g":"LTG-5","lag":11,"err":1},{"g":"LTG-5","lag":12,"err":-0.5},{"g":"LTG-5","lag":13,"err":-1.5},{"g":"LTG-5","lag":14,"err":-2.5},{"g":"LTG-5","lag":15,"err":-4},{"g":"LTG-5","lag":16,"err":-5},{"g":"LTG-5","lag":17,"err":-5.5},{"g":"LTG-5","lag":18,"err":-6.5},{"g":"LTG-5","lag":19,"err":-7.5},{"g":"LTG-5","lag":20,"err":-8},{"g":"LTG-5","lag":21,"err":-8.5},{"g":"LTG-5","lag":22,"err":-8},{"g":"LTG-5","lag":23,"err":-7.5},{"g":"LTG-5","lag":24,"err":-7.8},{"g":"LTG-5","lag":25,"err":-9},{"g":"LTG-5","lag":26,"err":-9.5},{"g":"LTG-5","lag":27,"err":-6.5},{"g":"LTG-5","lag":28,"err":-3.5},{"g":"LTG-5","lag":29,"err":-5},{"g":"LTG-5","lag":30,"err":-6.5},{"g":"LTG-5","lag":31,"err":-7},{"g":"LTG-5","lag":32,"err":-5.5},{"g":"LTG-5","lag":33,"err":-3.5},{"g":"LTG-5","lag":34,"err":-3},{"g":"LTG-5","lag":35,"err":-4},{"g":"LTG-5","lag":36,"err":-4},{"g":"LTG-5","lag":37,"err":-3.5},{"g":"LTG-5","lag":38,"err":-3},{"g":"LTG-5","lag":39,"err":-2},{"g":"LTG-5","lag":40,"err":-1}
],
"d": [
{"g":"LTG-30","lag":-28,"err":0.3},{"g":"LTG-30","lag":-27,"err":0},{"g":"LTG-30","lag":-26,"err":-0.8},{"g":"LTG-30","lag":-25,"err":-1.2},{"g":"LTG-30","lag":-24,"err":-1},{"g":"LTG-30","lag":-23,"err":-0.5},{"g":"LTG-30","lag":-22,"err":1},{"g":"LTG-30","lag":-21,"err":2.8},{"g":"LTG-30","lag":-20,"err":2.2},{"g":"LTG-30","lag":-19,"err":0.5},{"g":"LTG-30","lag":-18,"err":-0.5},{"g":"LTG-30","lag":-17,"err":-1.5},{"g":"LTG-30","lag":-16,"err":-2.5},{"g":"LTG-30","lag":-15,"err":-1.5},{"g":"LTG-30","lag":-14,"err":-2},{"g":"LTG-30","lag":-13,"err":-1.5},{"g":"LTG-30","lag":-12,"err":0},{"g":"LTG-30","lag":-11,"err":0.5},{"g":"LTG-30","lag":-10,"err":0.5},{"g":"LTG-30","lag":-9,"err":0},{"g":"LTG-30","lag":-8,"err":-0.5},{"g":"LTG-30","lag":-7,"err":0.5},{"g":"LTG-30","lag":-6,"err":1.5},{"g":"LTG-30","lag":-5,"err":0},{"g":"LTG-30","lag":-4,"err":-1.5},{"g":"LTG-30","lag":-3,"err":-2.5},{"g":"LTG-30","lag":-2,"err":-3},{"g":"LTG-30","lag":-1,"err":-3.5},{"g":"LTG-30","lag":0,"err":-4},{"g":"LTG-30","lag":1,"err":-3},{"g":"LTG-30","lag":2,"err":-2.5},{"g":"LTG-30","lag":3,"err":-1},{"g":"LTG-30","lag":4,"err":0},{"g":"LTG-30","lag":5,"err":1},{"g":"LTG-30","lag":6,"err":1.5},{"g":"LTG-30","lag":7,"err":1.2},{"g":"LTG-30","lag":8,"err":0},{"g":"LTG-30","lag":9,"err":-1},{"g":"LTG-30","lag":10,"err":-4},{"g":"LTG-30","lag":11,"err":-5},{"g":"LTG-30","lag":12,"err":-3.5},{"g":"LTG-30","lag":13,"err":-1},{"g":"LTG-30","lag":14,"err":1.5},{"g":"LTG-30","lag":15,"err":3.5},{"g":"LTG-30","lag":16,"err":3},{"g":"LTG-30","lag":17,"err":1},{"g":"LTG-30","lag":18,"err":-1},
{"g":"LTG-25","lag":-23,"err":0},{"g":"LTG-25","lag":-22,"err":1.5},{"g":"LTG-25","lag":-21,"err":2.2},{"g":"LTG-25","lag":-20,"err":1.5},{"g":"LTG-25","lag":-19,"err":0},{"g":"LTG-25","lag":-18,"err":-1},{"g":"LTG-25","lag":-17,"err":-2},{"g":"LTG-25","lag":-16,"err":-3},{"g":"LTG-25","lag":-15,"err":-1},{"g":"LTG-25","lag":-14,"err":-1.5},{"g":"LTG-25","lag":-13,"err":-1},{"g":"LTG-25","lag":-12,"err":0.5},{"g":"LTG-25","lag":-11,"err":1},{"g":"LTG-25","lag":-10,"err":1},{"g":"LTG-25","lag":-9,"err":1.2},{"g":"LTG-25","lag":-8,"err":0.8},{"g":"LTG-25","lag":-7,"err":1},{"g":"LTG-25","lag":-6,"err":1.8},{"g":"LTG-25","lag":-5,"err":0.5},{"g":"LTG-25","lag":-4,"err":-1},{"g":"LTG-25","lag":-3,"err":-2},{"g":"LTG-25","lag":-2,"err":-2.5},{"g":"LTG-25","lag":-1,"err":-3},{"g":"LTG-25","lag":0,"err":-3.5},{"g":"LTG-25","lag":1,"err":-2.5},{"g":"LTG-25","lag":2,"err":-2},{"g":"LTG-25","lag":3,"err":-0.5},{"g":"LTG-25","lag":4,"err":0.5},{"g":"LTG-25","lag":5,"err":1.5},{"g":"LTG-25","lag":6,"err":2},{"g":"LTG-25","lag":7,"err":1.5},{"g":"LTG-25","lag":8,"err":0.5},{"g":"LTG-25","lag":9,"err":-0.5},{"g":"LTG-25","lag":10,"err":-3.5},{"g":"LTG-25","lag":11,"err":-4.5},{"g":"LTG-25","lag":12,"err":-3},{"g":"LTG-25","lag":13,"err":0},{"g":"LTG-25","lag":14,"err":2.5},{"g":"LTG-25","lag":15,"err":4},{"g":"LTG-25","lag":16,"err":3.5},{"g":"LTG-25","lag":17,"err":1.5},{"g":"LTG-25","lag":18,"err":1},{"g":"LTG-25","lag":19,"err":1.2},{"g":"LTG-25","lag":20,"err":1.5},{"g":"LTG-25","lag":21,"err":2},{"g":"LTG-25","lag":22,"err":1.2},{"g":"LTG-25","lag":23,"err":1},
{"g":"LTG-20","lag":-18,"err":-0.5},{"g":"LTG-20","lag":-17,"err":-1},{"g":"LTG-20","lag":-16,"err":-2},{"g":"LTG-20","lag":-15,"err":-0.5},{"g":"LTG-20","lag":-14,"err":-1},{"g":"LTG-20","lag":-13,"err":-0.5},{"g":"LTG-20","lag":-12,"err":0},{"g":"LTG-20","lag":-11,"err":-0.5},{"g":"LTG-20","lag":-10,"err":-0.5},{"g":"LTG-20","lag":-9,"err":-0.2},{"g":"LTG-20","lag":-8,"err":-0.5},{"g":"LTG-20","lag":-7,"err":0},{"g":"LTG-20","lag":-6,"err":0.5},{"g":"LTG-20","lag":-5,"err":-0.5},{"g":"LTG-20","lag":-4,"err":-2},{"g":"LTG-20","lag":-3,"err":-3},{"g":"LTG-20","lag":-2,"err":-3.5},{"g":"LTG-20","lag":-1,"err":-4},{"g":"LTG-20","lag":0,"err":-4.5},{"g":"LTG-20","lag":1,"err":-3.5},{"g":"LTG-20","lag":2,"err":-2.5},{"g":"LTG-20","lag":3,"err":-1},{"g":"LTG-20","lag":4,"err":0},{"g":"LTG-20","lag":5,"err":1},{"g":"LTG-20","lag":6,"err":1.8},{"g":"LTG-20","lag":7,"err":1.5},{"g":"LTG-20","lag":8,"err":0.5},{"g":"LTG-20","lag":9,"err":-0.5},{"g":"LTG-20","lag":10,"err":-3},{"g":"LTG-20","lag":11,"err":-4.5},{"g":"LTG-20","lag":12,"err":-3},{"g":"LTG-20","lag":13,"err":0.5},{"g":"LTG-20","lag":14,"err":3},{"g":"LTG-20","lag":15,"err":4.5},{"g":"LTG-20","lag":16,"err":4.5},{"g":"LTG-20","lag":17,"err":2.5},{"g":"LTG-20","lag":18,"err":1.5},{"g":"LTG-20","lag":19,"err":2},{"g":"LTG-20","lag":20,"err":2.5},{"g":"LTG-20","lag":21,"err":2.8},{"g":"LTG-20","lag":22,"err":2},{"g":"LTG-20","lag":23,"err":1.5},{"g":"LTG-20","lag":24,"err":3},{"g":"LTG-20","lag":25,"err":4.5},{"g":"LTG-20","lag":26,"err":4.5},{"g":"LTG-20","lag":27,"err":4.8},{"g":"LTG-20","lag":28,"err":5.5},
{"g":"LTG-15","lag":-13,"err":-0.5},{"g":"LTG-15","lag":-12,"err":-1},{"g":"LTG-15","lag":-11,"err":-1.5},{"g":"LTG-15","lag":-10,"err":-1},{"g":"LTG-15","lag":-9,"err":-1.5},{"g":"LTG-15","lag":-8,"err":-1.8},{"g":"LTG-15","lag":-7,"err":-1.5},{"g":"LTG-15","lag":-6,"err":-1},{"g":"LTG-15","lag":-5,"err":-1.5},{"g":"LTG-15","lag":-4,"err":-2.5},{"g":"LTG-15","lag":-3,"err":-3.5},{"g":"LTG-15","lag":-2,"err":-3},{"g":"LTG-15","lag":-1,"err":-3},{"g":"LTG-15","lag":0,"err":-3.5},{"g":"LTG-15","lag":1,"err":-2.5},{"g":"LTG-15","lag":2,"err":-1.5},{"g":"LTG-15","lag":3,"err":0},{"g":"LTG-15","lag":4,"err":1},{"g":"LTG-15","lag":5,"err":1.8},{"g":"LTG-15","lag":6,"err":2.2},{"g":"LTG-15","lag":7,"err":1.5},{"g":"LTG-15","lag":8,"err":0.5},{"g":"LTG-15","lag":9,"err":0},{"g":"LTG-15","lag":10,"err":-2.5},{"g":"LTG-15","lag":11,"err":-4},{"g":"LTG-15","lag":12,"err":-2},{"g":"LTG-15","lag":13,"err":1.5},{"g":"LTG-15","lag":14,"err":4},{"g":"LTG-15","lag":15,"err":5.5},{"g":"LTG-15","lag":16,"err":5.2},{"g":"LTG-15","lag":17,"err":3},{"g":"LTG-15","lag":18,"err":2},{"g":"LTG-15","lag":19,"err":2},{"g":"LTG-15","lag":20,"err":2.8},{"g":"LTG-15","lag":21,"err":3.2},{"g":"LTG-15","lag":22,"err":2.5},{"g":"LTG-15","lag":23,"err":2},{"g":"LTG-15","lag":24,"err":3.5},{"g":"LTG-15","lag":25,"err":5},{"g":"LTG-15","lag":26,"err":5},{"g":"LTG-15","lag":27,"err":5.5},{"g":"LTG-15","lag":28,"err":6.5},{"g":"LTG-15","lag":29,"err":7},{"g":"LTG-15","lag":30,"err":7},{"g":"LTG-15","lag":31,"err":6},{"g":"LTG-15","lag":32,"err":6.5},{"g":"LTG-15","lag":33,"err":7.2},
{"g":"LTG-10","lag":-8,"err":-1},{"g":"LTG-10","lag":-7,"err":-1.2},{"g":"LTG-10","lag":-6,"err":-0.5},{"g":"LTG-10","lag":-5,"err":-1},{"g":"LTG-10","lag":-4,"err":-2},{"g":"LTG-10","lag":-3,"err":-2.5},{"g":"LTG-10","lag":-2,"err":-2},{"g":"LTG-10","lag":-1,"err":-2.5},{"g":"LTG-10","lag":0,"err":-3},{"g":"LTG-10","lag":1,"err":-2},{"g":"LTG-10","lag":2,"err":-1},{"g":"LTG-10","lag":3,"err":0.5},{"g":"LTG-10","lag":4,"err":1},{"g":"LTG-10","lag":5,"err":1.5},{"g":"LTG-10","lag":6,"err":2},{"g":"LTG-10","lag":7,"err":1},{"g":"LTG-10","lag":8,"err":0},{"g":"LTG-10","lag":9,"err":0},{"g":"LTG-10","lag":10,"err":-2},{"g":"LTG-10","lag":11,"err":-3.5},{"g":"LTG-10","lag":12,"err":-1.5},{"g":"LTG-10","lag":13,"err":2},{"g":"LTG-10","lag":14,"err":4.5},{"g":"LTG-10","lag":15,"err":5.5},{"g":"LTG-10","lag":16,"err":5.5},{"g":"LTG-10","lag":17,"err":3.5},{"g":"LTG-10","lag":18,"err":2},{"g":"LTG-10","lag":19,"err":2.2},{"g":"LTG-10","lag":20,"err":3},{"g":"LTG-10","lag":21,"err":3.5},{"g":"LTG-10","lag":22,"err":2.8},{"g":"LTG-10","lag":23,"err":2.3},{"g":"LTG-10","lag":24,"err":3.8},{"g":"LTG-10","lag":25,"err":5.2},{"g":"LTG-10","lag":26,"err":5.3},{"g":"LTG-10","lag":27,"err":5.8},{"g":"LTG-10","lag":28,"err":6.8},{"g":"LTG-10","lag":29,"err":7.3},{"g":"LTG-10","lag":30,"err":7.5},{"g":"LTG-10","lag":31,"err":6},{"g":"LTG-10","lag":32,"err":5},{"g":"LTG-10","lag":33,"err":5.5},{"g":"LTG-10","lag":34,"err":4.5},{"g":"LTG-10","lag":35,"err":3.5},{"g":"LTG-10","lag":36,"err":2.5},{"g":"LTG-10","lag":37,"err":1.5},{"g":"LTG-10","lag":38,"err":2},
{"g":"LTG-5","lag":-3,"err":-1},{"g":"LTG-5","lag":-2,"err":-0.5},{"g":"LTG-5","lag":-1,"err":0},{"g":"LTG-5","lag":0,"err":-0.5},{"g":"LTG-5","lag":1,"err":-2},{"g":"LTG-5","lag":2,"err":-1.5},{"g":"LTG-5","lag":3,"err":-0.5},{"g":"LTG-5","lag":4,"err":0.5},{"g":"LTG-5","lag":5,"err":0.5},{"g":"LTG-5","lag":6,"err":0},{"g":"LTG-5","lag":7,"err":-0.5},{"g":"LTG-5","lag":8,"err":-0.5},{"g":"LTG-5","lag":9,"err":0},{"g":"LTG-5","lag":10,"err":-2},{"g":"LTG-5","lag":11,"err":-3.5},{"g":"LTG-5","lag":12,"err":-1},{"g":"LTG-5","lag":13,"err":2.5},{"g":"LTG-5","lag":14,"err":5},{"g":"LTG-5","lag":15,"err":5.8},{"g":"LTG-5","lag":16,"err":5.5},{"g":"LTG-5","lag":17,"err":3.5},{"g":"LTG-5","lag":18,"err":2},{"g":"LTG-5","lag":19,"err":2.5},{"g":"LTG-5","lag":20,"err":3.2},{"g":"LTG-5","lag":21,"err":3.5},{"g":"LTG-5","lag":22,"err":3},{"g":"LTG-5","lag":23,"err":2.5},{"g":"LTG-5","lag":24,"err":4},{"g":"LTG-5","lag":25,"err":5.2},{"g":"LTG-5","lag":26,"err":5.5},{"g":"LTG-5","lag":27,"err":6},{"g":"LTG-5","lag":28,"err":7},{"g":"LTG-5","lag":29,"err":7.5},{"g":"LTG-5","lag":30,"err":7.5},{"g":"LTG-5","lag":31,"err":6.2},{"g":"LTG-5","lag":32,"err":5},{"g":"LTG-5","lag":33,"err":5.5},{"g":"LTG-5","lag":34,"err":4.5},{"g":"LTG-5","lag":35,"err":3.5},{"g":"LTG-5","lag":36,"err":2.5},{"g":"LTG-5","lag":37,"err":1.5},{"g":"LTG-5","lag":38,"err":2.5},{"g":"LTG-5","lag":39,"err":3.2},{"g":"LTG-5","lag":40,"err":4}
]
},
"columns": 2,
"spacing": {"row": 0, "column": 18},
"concat": [
{"width": 213, "height": 122, "title": "(a) Northern Europe", "layer": [
 {"data": {"name": "refs"}, "mark": {"type": "rule", "color": "#8f8f8f", "strokeWidth": 1.2}, "encoding": {"x": {"field": "lag", "type": "quantitative", "title": "Lag (Days)", "axis": {"values": [-30, -20, -10, 0, 10, 20, 30, 40], "labelOverlap": false}}}},
 {"data": {"name": "zero"}, "mark": {"type": "rule", "color": "#8f8f8f", "strokeWidth": 1.2}, "encoding": {"y": {"field": "err", "type": "quantitative", "title": "Mean error v'T' (Kms⁻¹)", "axis": {"values": [-30, -20, -10, 0, 10, 20], "labelOverlap": false}}}},
 {"data": {"name": "a"}, "mark": {"type": "line", "strokeWidth": 1, "clip": true}, "encoding": {
  "x": {"field": "lag", "type": "quantitative", "title": "Lag (Days)", "scale": {"domain": [-31.4, 43.4], "nice": false, "zero": false}, "axis": {"values": [-30, -20, -10, 0, 10, 20, 30, 40], "labelOverlap": false}},
  "y": {"field": "err", "type": "quantitative", "title": "Mean error v'T' (Kms⁻¹)", "scale": {"domain": [-30, 20], "nice": false}, "axis": {"values": [-30, -20, -10, 0, 10, 20], "labelOverlap": false}},
  "color": {"field": "g", "type": "nominal", "scale": {"domain": ["LTG-30", "LTG-25", "LTG-20", "LTG-15", "LTG-10", "LTG-5"], "range": ["#f9a3b3", "#fbb7c4", "#f58ba0", "#da5a78", "#b8254a", "#6e2233"]}, "legend": {"title": null}}}}
]},
{"width": 211, "height": 122, "title": "(b) Siberia", "layer": [
 {"data": {"name": "refs"}, "mark": {"type": "rule", "color": "#8f8f8f", "strokeWidth": 1.2}, "encoding": {"x": {"field": "lag", "type": "quantitative", "title": "Lag (Days)", "axis": {"values": [-30, -20, -10, 0, 10, 20, 30, 40], "labelOverlap": false}}}},
 {"data": {"name": "zero"}, "mark": {"type": "rule", "color": "#8f8f8f", "strokeWidth": 1.2}, "encoding": {"y": {"field": "err", "type": "quantitative", "title": "Mean error v'T' (Kms⁻¹)", "axis": {"values": [-30, -20, -10, 0, 10, 20], "labelOverlap": false}}}},
 {"data": {"name": "b"}, "mark": {"type": "line", "strokeWidth": 1, "clip": true}, "encoding": {
  "x": {"field": "lag", "type": "quantitative", "title": "Lag (Days)", "scale": {"domain": [-31.4, 43.4], "nice": false, "zero": false}, "axis": {"values": [-30, -20, -10, 0, 10, 20, 30, 40], "labelOverlap": false}},
  "y": {"field": "err", "type": "quantitative", "title": "Mean error v'T' (Kms⁻¹)", "scale": {"domain": [-30, 20], "nice": false}, "axis": {"values": [-30, -20, -10, 0, 10, 20], "labelOverlap": false}},
  "color": {"field": "g", "type": "nominal", "scale": {"domain": ["LTG-30", "LTG-25", "LTG-20", "LTG-15", "LTG-10", "LTG-5"], "range": ["#f9a3b3", "#fbb7c4", "#f58ba0", "#da5a78", "#b8254a", "#6e2233"]}, "legend": {"title": null}}}}
]},
{"width": 213, "height": 122, "title": "(c) North Pacific", "layer": [
 {"data": {"name": "refs"}, "mark": {"type": "rule", "color": "#8f8f8f", "strokeWidth": 1.2}, "encoding": {"x": {"field": "lag", "type": "quantitative", "title": "Lag (Days)", "axis": {"values": [-30, -20, -10, 0, 10, 20, 30, 40], "labelOverlap": false}}}},
 {"data": {"name": "zero"}, "mark": {"type": "rule", "color": "#8f8f8f", "strokeWidth": 1.2}, "encoding": {"y": {"field": "err", "type": "quantitative", "title": "Mean error v'T' (Kms⁻¹)", "axis": {"values": [-30, -20, -10, 0, 10, 20], "labelOverlap": false}}}},
 {"data": {"name": "c"}, "mark": {"type": "line", "strokeWidth": 1, "clip": true}, "encoding": {
  "x": {"field": "lag", "type": "quantitative", "title": "Lag (Days)", "scale": {"domain": [-31.4, 43.4], "nice": false, "zero": false}, "axis": {"values": [-30, -20, -10, 0, 10, 20, 30, 40], "labelOverlap": false}},
  "y": {"field": "err", "type": "quantitative", "title": "Mean error v'T' (Kms⁻¹)", "scale": {"domain": [-30, 20], "nice": false}, "axis": {"values": [-30, -20, -10, 0, 10, 20], "labelOverlap": false}},
  "color": {"field": "g", "type": "nominal", "scale": {"domain": ["LTG-30", "LTG-25", "LTG-20", "LTG-15", "LTG-10", "LTG-5"], "range": ["#f9a3b3", "#fbb7c4", "#f58ba0", "#da5a78", "#b8254a", "#6e2233"]}, "legend": {"title": null}}}}
]},
{"width": 211, "height": 122, "title": "(d) North America/ Greenland", "layer": [
 {"data": {"name": "refs"}, "mark": {"type": "rule", "color": "#8f8f8f", "strokeWidth": 1.2}, "encoding": {"x": {"field": "lag", "type": "quantitative", "title": "Lag (Days)", "axis": {"values": [-30, -20, -10, 0, 10, 20, 30, 40], "labelOverlap": false}}}},
 {"data": {"name": "zero"}, "mark": {"type": "rule", "color": "#8f8f8f", "strokeWidth": 1.2}, "encoding": {"y": {"field": "err", "type": "quantitative", "title": "Mean error v'T' (Kms⁻¹)", "axis": {"values": [-30, -20, -10, 0, 10, 20], "labelOverlap": false}}}},
 {"data": {"name": "d"}, "mark": {"type": "line", "strokeWidth": 1, "clip": true}, "encoding": {
  "x": {"field": "lag", "type": "quantitative", "title": "Lag (Days)", "scale": {"domain": [-31.4, 43.4], "nice": false, "zero": false}, "axis": {"values": [-30, -20, -10, 0, 10, 20, 30, 40], "labelOverlap": false}},
  "y": {"field": "err", "type": "quantitative", "title": "Mean error v'T' (Kms⁻¹)", "scale": {"domain": [-30, 20], "nice": false}, "axis": {"values": [-30, -20, -10, 0, 10, 20], "labelOverlap": false}},
  "color": {"field": "g", "type": "nominal", "scale": {"domain": ["LTG-30", "LTG-25", "LTG-20", "LTG-15", "LTG-10", "LTG-5"], "range": ["#f9a3b3", "#fbb7c4", "#f58ba0", "#da5a78", "#b8254a", "#6e2233"]}, "legend": {"title": null}}}}
]}
],
"resolve": {"scale": {"color": "independent"}, "legend": {"color": "independent"}},
"config": {
 "font": "Liberation Sans",
 "view": {"stroke": "#4d4d4d", "strokeWidth": 1},
 "title": {"fontSize": 6.5, "fontWeight": "normal", "color": "#1a1a1a", "offset": 1},
 "axis": {"labelFontSize": 6, "titleFontSize": 6, "labelColor": "#4d4d4d", "titleColor": "#1a1a1a", "titleFontWeight": "normal", "tickColor": "#4d4d4d", "tickSize": 2, "domain": false, "gridColor": "#ececec", "gridWidth": 0.6, "labelPadding": 1, "titlePadding": 0, "labelOverlap": false, "labelFlush": false},
 "legend": {"orient": "bottom-right", "offset": 5, "labelFontSize": 6, "labelColor": "#333", "symbolType": "stroke", "symbolSize": 49, "symbolStrokeWidth": 1.5, "rowPadding": 0.5, "padding": 0, "labelOffset": 3}
}
}
